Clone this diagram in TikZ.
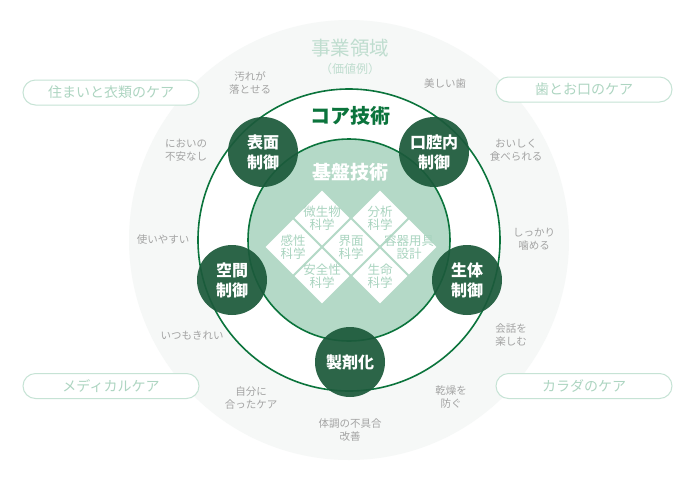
\documentclass[tikz,border=0pt]{standalone}
\usepackage{fontspec}
\setmainfont{Noto Sans CJK JP}
\usetikzlibrary{shapes.geometric}
\definecolor{ringbg}{HTML}{F6F8F7}
\definecolor{corel}{HTML}{0B743C}
\definecolor{basefill}{HTML}{B4D9C7}
\definecolor{darkc}{HTML}{1C5A3B}
\definecolor{paletxt}{HTML}{BFDDCF}
\definecolor{diatxt}{HTML}{A9D4BF}
\definecolor{graytxt}{HTML}{A3A3A3}
\definecolor{pillline}{HTML}{C6E3D5}
\definecolor{pilltxt}{HTML}{ADD5C1}
\tikzset{
  ctrl/.style={circle, minimum size=70pt, inner sep=0pt, fill=darkc, fill opacity=0.93, text opacity=1,
    text=white, align=center, font=\fontsize{16}{20}\selectfont\bfseries},
  dia/.style={diamond, minimum size=55pt, inner sep=0pt, fill=white},
  diatext/.style={align=center, text=diatxt, font=\fontsize{12.5}{13}\selectfont, inner sep=0pt},
  value/.style={align=center, text=graytxt, font=\fontsize{10.5}{13}\selectfont, inner sep=0pt},
  pill/.style={draw=pillline, line width=1pt, fill=white, rounded corners=12.5pt, minimum width=176pt,
    minimum height=25pt, inner sep=0pt, text=pilltxt, font=\fontsize{14}{16}\selectfont}
}
\begin{document}
\begin{tikzpicture}[x=1pt,y=-1pt]
\useasboundingbox (0,0) rectangle (696,483);
\fill[white] (0,0) rectangle (696,483);
% rings
\node[circle, minimum size=440pt, inner sep=0pt, fill=ringbg] (outer) at (349,240) {};
\node[circle, minimum size=302pt, inner sep=0pt, fill=white, draw=corel, line width=1.6pt] (core) at (349,240) {};
\node[circle, minimum size=202pt, inner sep=0pt, fill=basefill, draw=corel, line width=1.6pt] (base) at (349,240) {};
% titles
\node[text=paletxt, font=\fontsize{19.5}{22}\selectfont] (area) at (350,48) {事業領域};
\node[text=paletxt, font=\fontsize{12}{14}\selectfont] (areasub) at (350,69) {（価値例）};
\node[text=corel, font=\fontsize{20}{22}\selectfont\bfseries] (coret) at (350,116) {コア技術};
\node[text=white, font=\fontsize{19}{22}\selectfont\bfseries] (baset) at (350,172) {基盤技術};
% diamonds
\node[dia] (d1) at (322,218) {};
\node[dia] (d2) at (380,218) {};
\node[dia] (d3) at (293,247) {};
\node[dia] (d4) at (351,247) {};
\node[dia] (d5) at (409,247) {};
\node[dia] (d6) at (322,276) {};
\node[dia] (d7) at (380,276) {};
\node[diatext] (t1) at (d1) {微生物\\科学};
\node[diatext] (t2) at (d2) {分析\\科学};
\node[diatext] (t3) at (d3) {感性\\科学};
\node[diatext] (t4) at (d4) {界面\\科学};
\node[diatext] (t5) at (d5) {容器用具\\設計};
\node[diatext] (t6) at (d6) {安全性\\科学};
\node[diatext] (t7) at (d7) {生命\\科学};
% control circles
\node[ctrl] (c1) at (263,152) {表面\\制御};
\node[ctrl] (c2) at (434,152) {口腔内\\制御};
\node[ctrl] (c3) at (232,280) {空間\\制御};
\node[ctrl] (c4) at (467,280) {生体\\制御};
\node[ctrl] (c5) at (350,362) {製剤化};
% values
\node[value] (v1) at (250,83) {汚れが\\落とせる};
\node[value] (v2) at (445,83) {美しい歯};
\node[value] (v3) at (186,150) {においの\\不安なし};
\node[value] (v4) at (516,150) {おいしく\\食べられる};
\node[value] (v5) at (163,240) {使いやすい};
\node[value] (v6) at (534,239) {しっかり\\噛める};
\node[value] (v7) at (192,336) {いつもきれい};
\node[value] (v8) at (511,335) {会話を\\楽しむ};
\node[value] (v9) at (251,398) {自分に\\合ったケア};
\node[value] (v10) at (451,397) {乾燥を\\防ぐ};
\node[value] (v11) at (350,430) {体調の不具合\\改善};
% pills
\node[pill] (p1) at (111,92.5) {住まいと衣類のケア};
\node[pill] (p2) at (584,89.5) {歯とお口のケア};
\node[pill] (p3) at (111,386) {メディカルケア};
\node[pill] (p4) at (584,386) {カラダのケア};
\end{tikzpicture}
\end{document}
